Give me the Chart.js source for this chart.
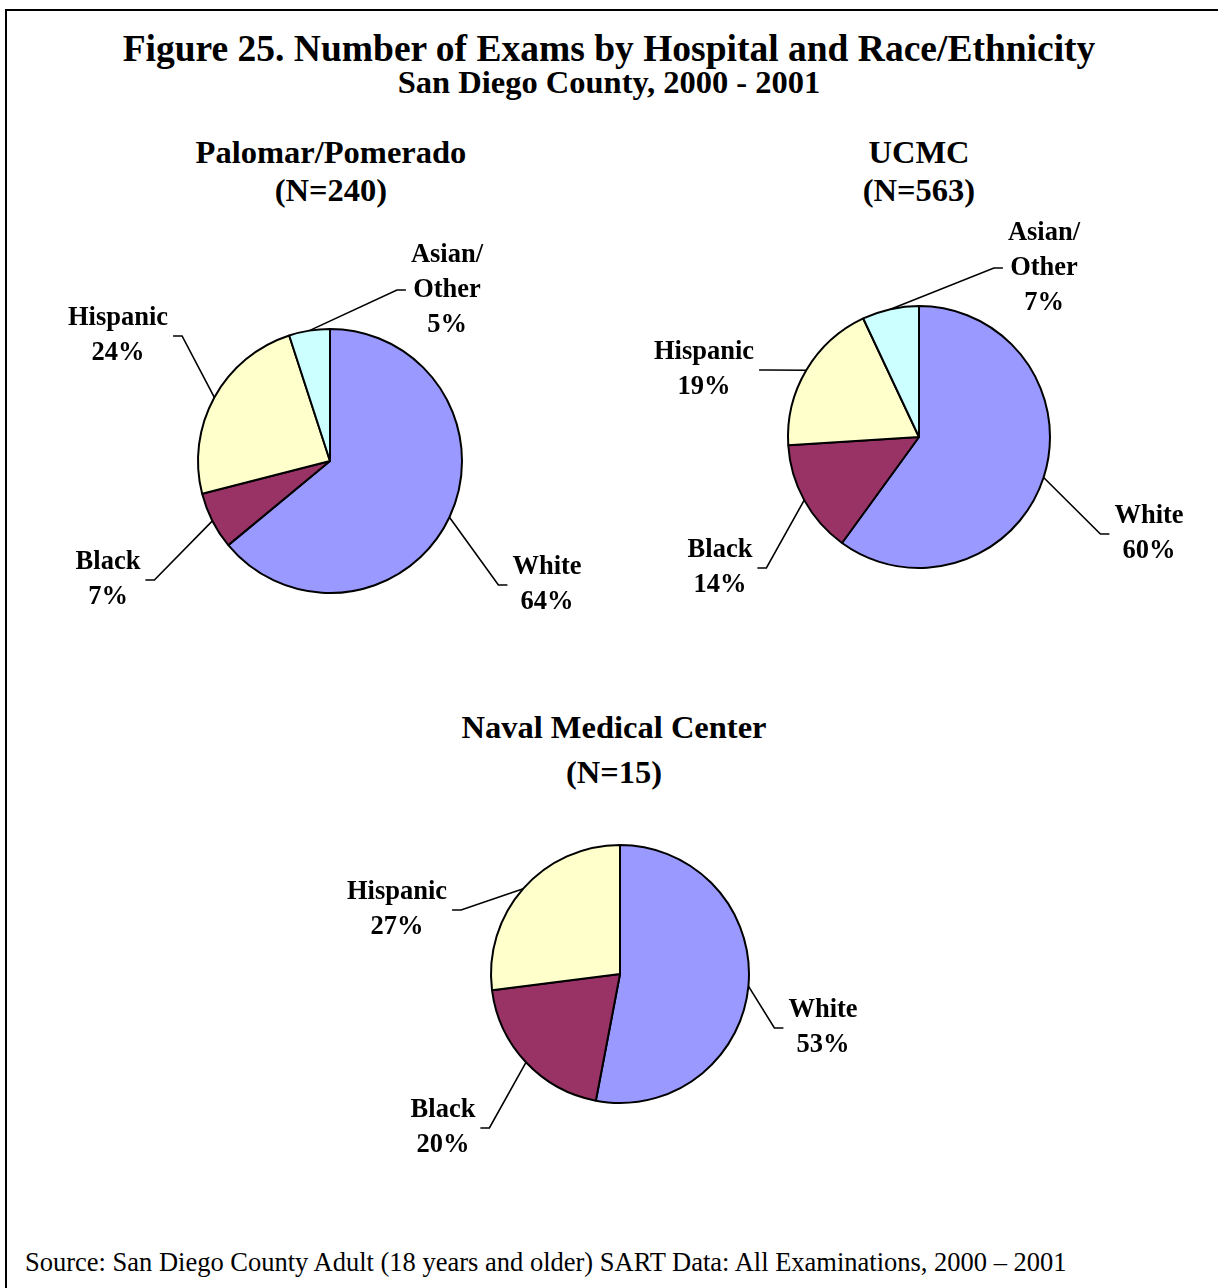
<!DOCTYPE html>
<html>
<head>
<meta charset="utf-8">
<title>Figure 25. Number of Exams by Hospital and Race/Ethnicity</title>
<script src="https://cdn.jsdelivr.net/npm/chart.js@4.4.1/dist/chart.umd.min.js"></script>
<style>
  html, body { margin: 0; padding: 0; background: #fff; }
  body { width: 1218px; height: 1288px; position: relative; overflow: hidden;
         font-family: "Liberation Serif", "Times New Roman", serif; color: #000; }
  .frame { position: absolute; left: 5px; top: 9px; width: 1300px; height: 1400px;
           border-top: 2px solid #000; border-left: 2px solid #000; }
  .txt { position: absolute; text-align: center; white-space: nowrap; font-weight: bold; }
  .pie { position: absolute; }
  #source { position: absolute; left: 25px; top: 1249px; font-size: 26.5px; line-height: 26px;
            white-space: nowrap; }
</style>
</head>
<body>
<div class="frame"></div>

<div class="txt" style="left:0;width:1218px;top:30px;font-size:37.5px;line-height:37px;">Figure 25. Number of Exams by Hospital and Race/Ethnicity</div>
<div class="txt" style="left:0;width:1218px;top:66px;font-size:32.5px;line-height:32px;">San Diego County, 2000 - 2001</div>

<div class="txt" style="left:126px;width:410px;top:136px;font-size:32.5px;line-height:32px;">Palomar/Pomerado</div>
<div class="txt" style="left:126px;width:410px;top:174px;font-size:32.5px;line-height:32px;">(N=240)</div>
<div class="txt" style="left:714px;width:410px;top:136px;font-size:32.5px;line-height:32px;">UCMC</div>
<div class="txt" style="left:714px;width:410px;top:174px;font-size:32.5px;line-height:32px;">(N=563)</div>
<div class="txt" style="left:409px;width:410px;top:711px;font-size:32.5px;line-height:32px;">Naval Medical Center</div>
<div class="txt" style="left:409px;width:410px;top:756px;font-size:32.5px;line-height:32px;">(N=15)</div>

<canvas id="palomar" class="pie" width="580" height="460" style="left:40px;top:231px;"></canvas>
<canvas id="ucmc" class="pie" width="580" height="460" style="left:629px;top:207px;"></canvas>
<canvas id="naval" class="pie" width="580" height="400" style="left:330px;top:774px;"></canvas>

<div id="source">Source: San Diego County Adult (18 years and older) SART Data: All Examinations, 2000 – 2001</div>

<script>
// data (percent of exams)
const categories = ["White", "Black", "Hispanic", "Asian/Other"];
const labelLines = [["White"], ["Black"], ["Hispanic"], ["Asian/", "Other"]];
const palomarValues = [64, 7, 24, 5];
const ucmcValues = [60, 14, 19, 7];
const navalValues = [53, 20, 27, 0];

const sliceColors = ["#9999FF", "#993366", "#FFFFCC", "#CCFFFF"];

// draws the data labels off to the side with an elbow leader line
const leaderLabels = {
  id: "leaderLabels",
  afterDatasetsDraw(chart, args, opts) {
    const ctx = chart.ctx;
    const meta = chart.getDatasetMeta(0);
    const values = chart.data.datasets[0].data;
    ctx.save();
    ctx.font = "bold 26.5px 'Liberation Serif', 'Times New Roman', serif";
    ctx.textAlign = "center";
    ctx.textBaseline = "middle";
    ctx.strokeStyle = "#000";
    ctx.lineWidth = 1.6;
    meta.data.forEach((arc, i) => {
      const off = opts.offsets[i];
      if (!off || values[i] === 0) return;
      const p = arc.getProps(["x", "y", "startAngle", "endAngle", "outerRadius"], true);
      const mid = (p.startAngle + p.endAngle) / 2;
      const ex = p.x + p.outerRadius * Math.cos(mid);
      const ey = p.y + p.outerRadius * Math.sin(mid);
      const lines = labelLines[i].concat([values[i] + "%"]);
      const cx = p.x + off[0];
      const cy = p.y + off[1];
      const w = Math.max(...lines.map((s) => ctx.measureText(s).width));
      const side = off[0] > 0 ? -1 : 1;
      const boxEdge = cx + side * (w / 2 + 5);
      const elbow = boxEdge + side * 9;
      ctx.beginPath();
      ctx.moveTo(ex, ey);
      ctx.lineTo(elbow, cy);
      ctx.lineTo(boxEdge, cy);
      ctx.stroke();
      ctx.fillStyle = "#000";
      lines.forEach((s, k) => {
        ctx.fillText(s, cx, cy + (k - (lines.length - 1) / 2) * 35);
      });
    });
    ctx.restore();
  },
};

function makePie(id, values, radius, offsets) {
  return new Chart(document.getElementById(id), {
    type: "pie",
    data: {
      labels: categories,
      datasets: [
        {
          data: values,
          backgroundColor: sliceColors,
          borderColor: "#000",
          borderWidth: 2,
        },
      ],
    },
    options: {
      responsive: false,
      animation: false,
      radius: radius,
      layout: { padding: 0 },
      plugins: {
        legend: { display: false },
        tooltip: { enabled: false },
        leaderLabels: { offsets: offsets },
      },
    },
    plugins: [leaderLabels],
  });
}

makePie("palomar", palomarValues, 132, [[217, 124], [-222, 119], [-212, -125], [117, -171]]);
makePie("ucmc", ucmcValues, 131, [[230, 97], [-199, 131], [-215, -67], [125, -169]]);
makePie("naval", navalValues, 129, [[203, 54], [-177, 154], [-223, -64], null]);
</script>
</body>
</html>
